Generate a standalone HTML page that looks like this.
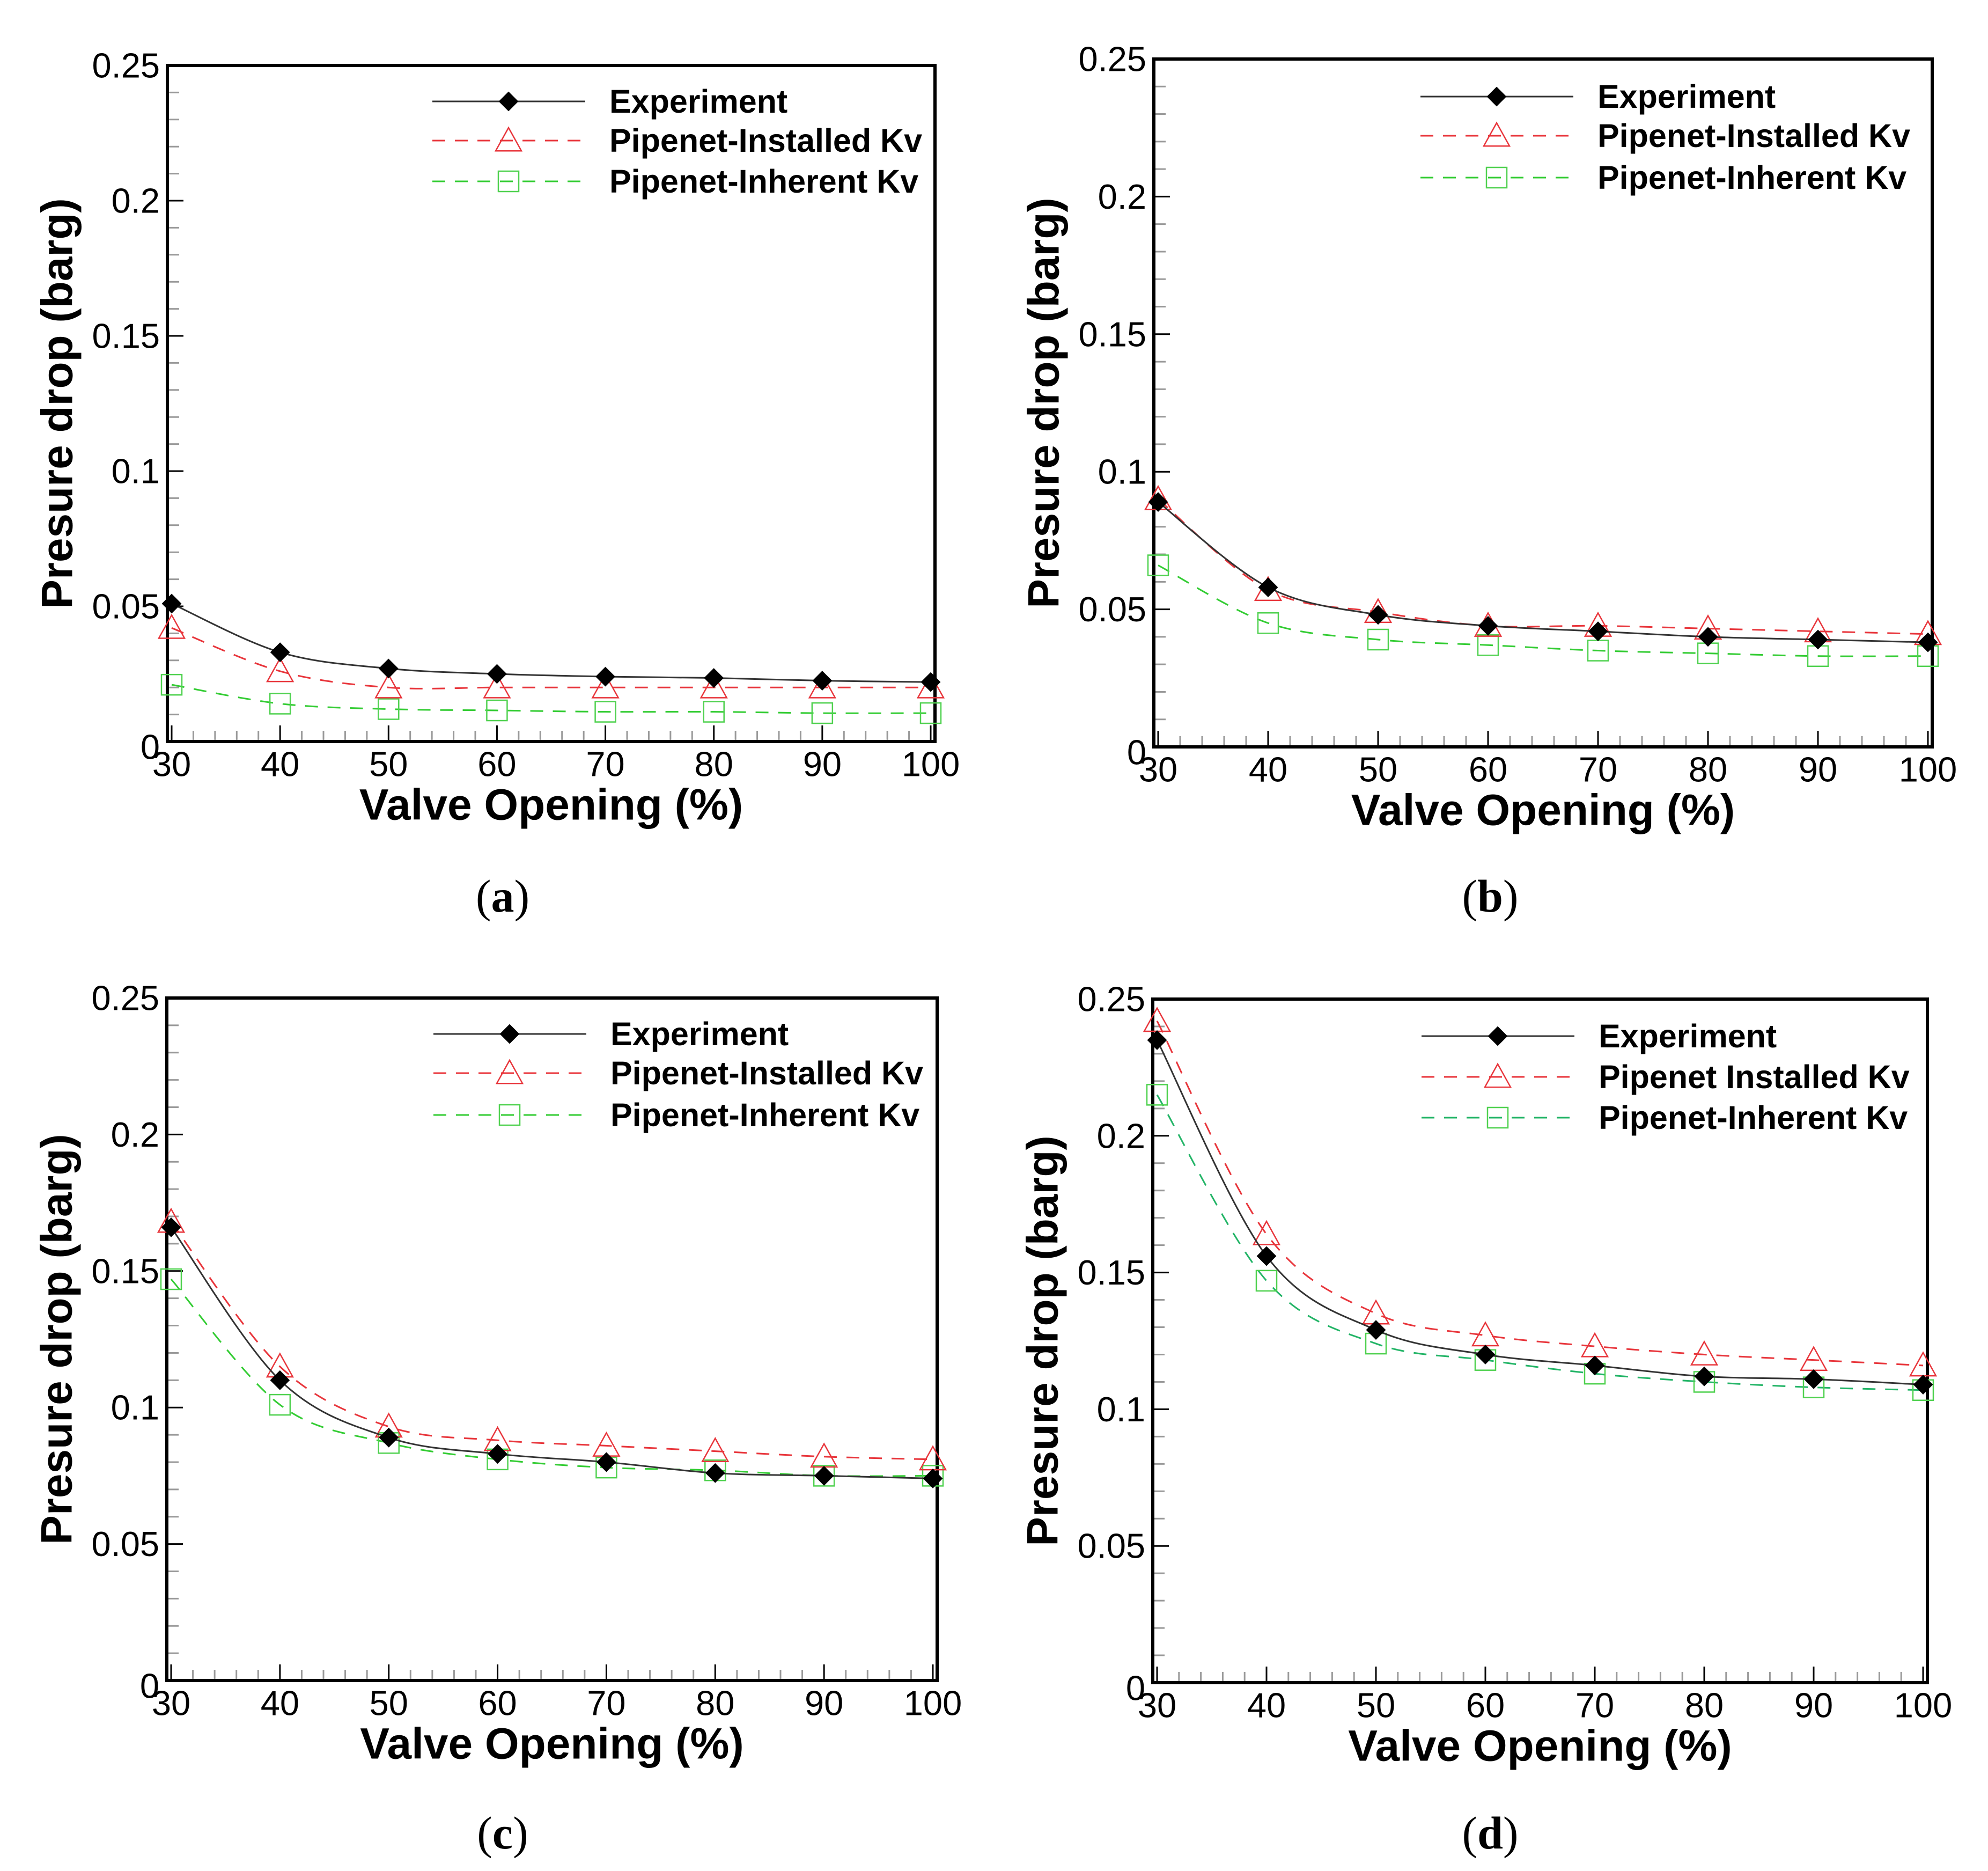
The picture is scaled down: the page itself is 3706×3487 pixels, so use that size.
<!DOCTYPE html>
<html><head><meta charset="utf-8">
<style>
html,body{margin:0;padding:0;background:#fff;}
svg{display:block;}
text{font-family:"Liberation Sans",Arial,sans-serif;}
</style></head>
<body>
<svg id="fig" width="3706" height="3487" viewBox="0 0 3706 3487" xmlns="http://www.w3.org/2000/svg"></svg>
<script>
const categories = [30,40,50,60,70,80,90,100];
const yTicks = [0,0.05,0.1,0.15,0.2,0.25];
const yTickLabels = ["0","0.05","0.1","0.15","0.2","0.25"];
const xTickLabels = ["30","40","50","60","70","80","90","100"];

const expA = [0.051,0.033,0.027,0.025,0.024,0.0235,0.0225,0.022];
const insA = [0.042,0.026,0.020,0.020,0.020,0.020,0.020,0.020];
const inhA = [0.021,0.014,0.012,0.0115,0.011,0.011,0.0105,0.0105];

const expB = [0.089,0.058,0.048,0.044,0.042,0.040,0.039,0.038];
const insB = [0.090,0.057,0.049,0.044,0.044,0.043,0.042,0.041];
const inhB = [0.066,0.045,0.039,0.037,0.035,0.034,0.033,0.033];

const expC = [0.166,0.110,0.089,0.083,0.080,0.076,0.075,0.074];
const insC = [0.168,0.115,0.093,0.088,0.086,0.084,0.082,0.081];
const inhC = [0.147,0.101,0.087,0.081,0.078,0.077,0.075,0.075];

const expD = [0.235,0.156,0.129,0.120,0.116,0.112,0.111,0.109];
const insD = [0.242,0.164,0.135,0.127,0.123,0.120,0.118,0.116];
const inhD = [0.215,0.147,0.124,0.118,0.113,0.110,0.108,0.107];

const legendA = ["Experiment","Pipenet-Installed Kv","Pipenet-Inherent Kv"];
const legendD = ["Experiment","Pipenet Installed Kv","Pipenet-Inherent Kv"];

const NS = "http://www.w3.org/2000/svg";
const svg = document.getElementById('fig');
function mk(tag, attrs, parent){
  const e = document.createElementNS(NS, tag);
  for (const k in attrs) e.setAttribute(k, attrs[k]);
  (parent||svg).appendChild(e);
  return e;
}
function smoothPath(pts){
  let d = `M${pts[0][0]},${pts[0][1]}`;
  for (let i=0;i<pts.length-1;i++){
    const p0=pts[Math.max(0,i-1)], p1=pts[i], p2=pts[i+1], p3=pts[Math.min(pts.length-1,i+2)];
    const c1x=p1[0]+(p2[0]-p0[0])/6, c1y=p1[1]+(p2[1]-p0[1])/6;
    const c2x=p2[0]-(p3[0]-p1[0])/6, c2y=p2[1]-(p3[1]-p1[1])/6;
    d += ` C${c1x},${c1y} ${c2x},${c2y} ${p2[0]},${p2[1]}`;
  }
  return d;
}
function marker(g, kind, x, y, color){
  let m;
  if (kind==='diamond'){
    const r=17;
    m = mk('polygon',{points:`${x},${y-r} ${x+r},${y} ${x},${y+r} ${x-r},${y}`,fill:'#000',stroke:'#000','stroke-width':2},g);
  } else if (kind==='triangle'){
    const r=24;
    m = mk('polygon',{points:`${x},${y-r} ${x+r},${y+r*0.8} ${x-r},${y+r*0.8}`,fill:'none',stroke:color,'stroke-width':2.5},g);
  } else {
    const r=19;
    m = mk('rect',{x:x-r,y:y-r,width:2*r,height:2*r,fill:'none',stroke:color,'stroke-width':2.5},g);
  }
  return m;
}

function panel(p){
  const g = mk('g',{});
  
  
  const L=p.L, R=p.R, T=p.T, B=p.B;
  const x0=L+8, x1=R-8;
  const sx = v => x0 + (v-30)/(100-30)*(x1-x0);
  const sy = v => B - v/0.25*(B-T);
  for (let v=0; v<=0.25001; v+=0.01){
    const major = Math.abs(Math.round(v*100)%5)===0;
    mk('line',{x1:L,x2:L+(major?30:22),y1:sy(v),y2:sy(v),stroke:major?'#000':'#999','stroke-width':3},g);
  }
  for (let v=30; v<=100; v+=2){
    const major = v%10===0;
    mk('line',{x1:sx(v),x2:sx(v),y1:B,y2:B-(major?30:20),stroke:major?'#000':'#999','stroke-width':3},g);
  }
  const box = mk('rect',{x:L,y:T,width:R-L,height:B-T,fill:'none',stroke:'#000','stroke-width':6},g);
  
  
  yTicks.forEach((v,i)=>{
    const t = mk('text',{x:L-14,y:sy(v)+(i===0?10:0),'text-anchor':'end','dominant-baseline':'central','font-size':65,fill:'#000'},g);
    t.textContent = yTickLabels[i];
    
    
  });
  categories.forEach((v,i)=>{
    const t = mk('text',{x:sx(v),y:B+42,'text-anchor':'middle','dominant-baseline':'central','font-size':65,fill:'#000'},g);
    t.textContent = xTickLabels[i];
    
    
  });
  const xt = mk('text',{x:(L+R)/2,y:B+118,'text-anchor':'middle','dominant-baseline':'central','font-size':82,'font-weight':'bold',fill:'#000'},g);
  xt.textContent='Valve Opening (%)';
  
  
  const yx = L-205, yy=(T+B)/2;
  const ytt = mk('text',{x:yx,y:yy,'text-anchor':'middle','dominant-baseline':'central','font-size':82,'font-weight':'bold',fill:'#000',transform:`rotate(-90 ${yx} ${yy})`},g);
  ytt.textContent='Presure drop (barg)';
  
  
  const series = [
    {name:'experiment', vals:p.exp, color:'#333', dash:null, kind:'diamond', w:3},
    {name:'installed', vals:p.ins, color:'#e8353b', dash:'24 18', kind:'triangle', w:3},
    {name:'inherent', vals:p.inh, color:p.green, dash:'24 18', kind:'square', w:3}
  ];
  [2,1,0].forEach(si=>{
    const s = series[si];
    const pts = categories.map((c,i)=>[sx(c), sy(s.vals[i])]);
    const path = mk('path',{d:smoothPath(pts),fill:'none',stroke:s.color,'stroke-width':s.w},g);
    if (s.dash) path.setAttribute('stroke-dasharray', s.dash);
    
    
    const mcolor = s.kind==='square' ? '#4fd14f' : s.color;
    pts.forEach(pt=>{
      const m = marker(g, s.kind, pt[0], pt[1], mcolor);
      
      
    });
  });
  const lg = mk('g',{},g);
  
  
  series.forEach((s,i)=>{
    const ly = p.legY[i];
    const ln = mk('line',{x1:p.legX,x2:p.legX+285,y1:ly,y2:ly,stroke:s.color,'stroke-width':3},lg);
    if (s.dash) ln.setAttribute('stroke-dasharray', s.dash);
    
    
    const mcolor = s.kind==='square' ? '#4fd14f' : s.color;
    const m = marker(lg, s.kind, p.legX+142, ly, mcolor);
    
    
    const t = mk('text',{x:p.legX+330,y:ly,'dominant-baseline':'central','font-size':61,'font-weight':'bold',fill:'#000'},lg);
    t.textContent = p.legend[i];
    
    
  });
  const pl = mk('text',{x:p.labX,y:p.labY,'text-anchor':'middle','dominant-baseline':'central','font-size':86,fill:'#000',style:'font-family:"Liberation Serif",serif'},g);
  pl.textContent='(';
  const b = mk('tspan',{'font-weight':'bold'},pl); b.textContent=p.id;
  const c = mk('tspan',{},pl); c.textContent=')';
  
  
}

panel({id:'a',L:312,R:1743,T:122,B:1382,exp:expA,ins:insA,inh:inhA,green:'#33cc33',
  legX:806,legY:[189,262,338],legend:legendA,labX:937,labY:1670});
panel({id:'b',L:2151,R:3602,T:110,B:1392,exp:expB,ins:insB,inh:inhB,green:'#33cc33',
  legX:2648,legY:[180,253,331],legend:legendA,labX:2778,labY:1670});
panel({id:'c',L:311,R:1747,T:1860,B:3132,exp:expC,ins:insC,inh:inhC,green:'#33cc33',
  legX:808,legY:[1927,2000,2078],legend:legendA,labX:937,labY:3416});
panel({id:'d',L:2149,R:3593,T:1862,B:3136,exp:expD,ins:insD,inh:inhD,green:'#22b466',
  legX:2650,legY:[1931,2007,2083],legend:legendD,labX:2778,labY:3416});
</script>
</body></html>
